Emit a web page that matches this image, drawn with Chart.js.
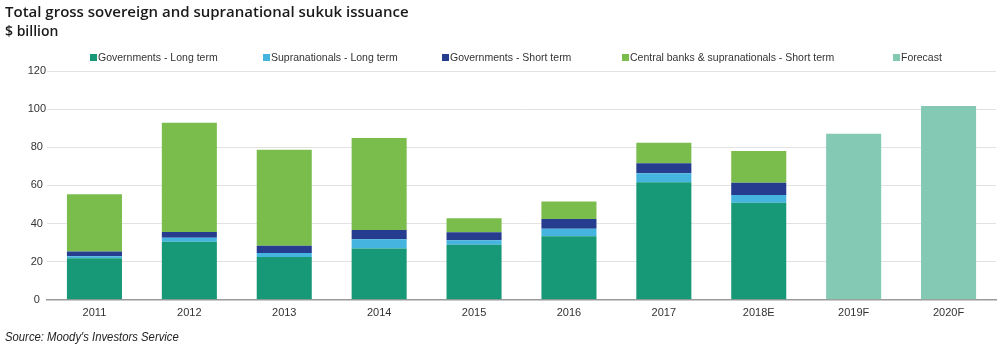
<!DOCTYPE html>
<html>
<head>
<meta charset="utf-8">
<script src="https://cdn.jsdelivr.net/npm/chart.js@4/dist/chart.umd.min.js"></script>
<style>
  html, body { margin: 0; padding: 0; background: #fff; }
  #wrap { position: relative; width: 1000px; height: 354px; overflow: hidden; }
  #chart { position: absolute; left: 0; top: 0; }
  .title { position: absolute; left: 5px; top: 1px; font-family: 'Open Sans', sans-serif; font-size: 15px; font-weight: 600; color: #1a1a1a; white-space: nowrap; }
  .sub { position: absolute; left: 5px; top: 21px; font-family: 'Open Sans', sans-serif; font-size: 14px; font-weight: 600; color: #1a1a1a; }
  .source { position: absolute; left: 5px; top: 329px; font-family: 'Liberation Sans', sans-serif; font-style: italic; font-size: 13px; color: #222; transform: scaleX(0.87); transform-origin: left top; white-space: nowrap; }
  .leg { position: absolute; top: 51px; font-family: 'Liberation Sans', Arial, sans-serif; font-size: 10.5px; color: #333; white-space: nowrap; }
  .leg i { display: inline-block; width: 7px; height: 7px; margin-right: 1px; vertical-align: 0px; }
</style>
</head>
<body>
<div id="wrap">
  <canvas id="chart" width="1000" height="354"></canvas>
  <div class="title">Total gross sovereign and supranational sukuk issuance</div>
  <div class="sub">$ billion</div>
  <div id="legend"></div>
  <div class="source">Source: Moody's Investors Service</div>
</div>
<script>
// ── Data ────────────────────────────────────────────────────────────────────
const years = ['2011', '2012', '2013', '2014', '2015', '2016', '2017', '2018E', '2019F', '2020F'];

const govLong   = [21.8, 30.5, 22.5, 26.9, 28.9, 33.3, 61.6, 50.9, null, null];
const supraLong = [1.1, 2.1, 2.0, 4.9, 2.3, 4.0, 4.8, 4.0, null, null];
const govShort  = [2.4, 2.9, 3.8, 4.8, 4.2, 5.1, 5.2, 6.5, null, null];
const cbShort   = [30.0, 57.4, 50.4, 48.2, 7.4, 9.2, 10.8, 16.7, null, null];
const forecast  = [null, null, null, null, null, null, null, null, 87.1, 101.7];

const yTicks = [0, 20, 40, 60, 80, 100, 120];

const seriesNames = [
    'Governments - Long term',
    'Supranationals - Long term',
    'Governments - Short term',
    'Central banks & supranationals - Short term',
    'Forecast'
];
const seriesColors = ['#179877', '#45b5e0', '#253c8f', '#7bbd4d', '#84c9b4'];

// legend (html, laid out like the original)
const legendX = [90, 263, 442, 622, 893];
const legendEl = document.getElementById('legend');
seriesNames.forEach((name, i) => {
    const d = document.createElement('div');
    d.className = 'leg';
    d.style.left = legendX[i] + 'px';
    d.innerHTML = `<i style="background:${seriesColors[i]}"></i>${name}`;
    legendEl.appendChild(d);
});

const seriesData = [govLong, supraLong, govShort, cbShort, forecast];

new Chart(document.getElementById('chart'), {
    type: 'bar',
    data: {
        labels: years,
        datasets: seriesData.map((vals, i) => ({
            label: seriesNames[i],
            data: vals,
            backgroundColor: seriesColors[i],
            borderWidth: 0,
            categoryPercentage: 1,
            barPercentage: 0.58
        }))
    },
    options: {
        responsive: false,
        animation: false,
        layout: { padding: { top: 71, right: 4, bottom: 27, left: 0 } },
        plugins: {
            legend: { display: false },
            tooltip: { enabled: false }
        },
        scales: {
            x: {
                stacked: true,
                grid: { display: false, drawTicks: false },
                border: { color: '#9a9a9a', width: 1.5 },
                ticks: { padding: 7, color: '#333', font: { family: 'Liberation Sans', size: 11 } }
            },
            y: {
                stacked: true,
                min: 0,
                max: 120,
                afterBuildTicks: (scale) => { scale.ticks = yTicks.map(v => ({ value: v })); },
                afterFit: (scale) => { scale.width = 47; },
                grid: { color: '#e2e2e2', drawTicks: false },
                border: { display: false },
                ticks: { padding: 1, crossAlign: 'center', color: '#333', font: { family: 'Liberation Sans', size: 11 } }
            }
        }
    }
});
</script>
</body>
</html>
